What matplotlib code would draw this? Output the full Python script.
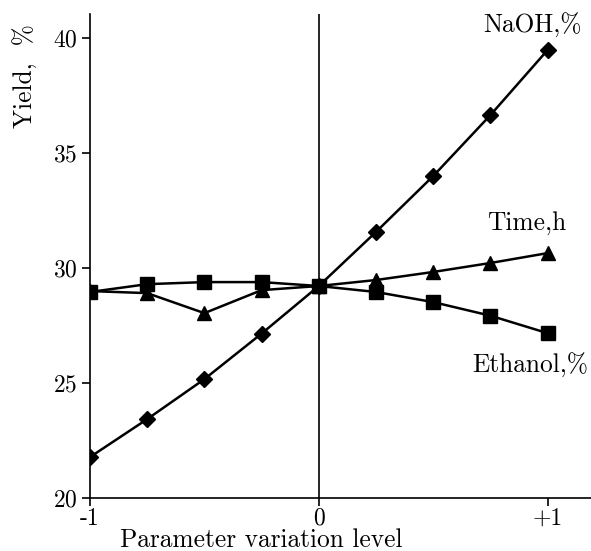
import matplotlib
matplotlib.use('Agg')
import matplotlib.pyplot as plt

plt.rcParams['font.family'] = 'cmr10'
plt.rcParams['mathtext.fontset'] = 'cm'
plt.rcParams['axes.formatter.use_mathtext'] = True

# data
levels = [-1, -0.75, -0.5, -0.25, 0, 0.25, 0.5, 0.75, 1]
naoh = [21.78, 23.43, 25.17, 27.15, 29.22, 31.57, 34.0, 36.65, 39.48]
ethanol = [28.96, 29.3, 29.39, 29.39, 29.22, 28.96, 28.52, 27.93, 27.17]
time_h = [29.0, 28.91, 28.04, 29.04, 29.22, 29.48, 29.83, 30.22, 30.65]

xticks = [-1, 0, 1]
xticklabels = ['-1', '0', '+1']
yticks = [20, 25, 30, 35, 40]

W, H = 591, 551
fs_tick = 17
fs_text = 18.3

fig = plt.figure(figsize=(W / 100, H / 100), dpi=100)
ax = fig.add_axes([90 / W, 53 / H, 501 / W, 484 / H])

lw = 1.8
ax.plot(levels, time_h, color='black', lw=lw, marker='^', ms=10, zorder=3)
ax.plot(levels, ethanol, color='black', lw=lw, marker='s', ms=9.5, zorder=4)
ax.plot(levels, naoh, color='black', lw=lw, marker='D', ms=8, zorder=5)

ax.axvline(0, color='black', lw=1.2, zorder=2)

ax.set_xlim(-1, 1.19)
ax.set_ylim(20, 41.05)

ax.spines['top'].set_visible(False)
ax.spines['right'].set_visible(False)
ax.spines['left'].set_linewidth(1.2)
ax.spines['bottom'].set_linewidth(1.2)

ax.set_xticks(xticks)
ax.set_xticklabels(xticklabels)
ax.set_yticks(yticks)
ax.tick_params(axis='both', length=6, width=1.2, labelsize=fs_tick,
               direction='out')
ax.tick_params(axis='x', pad=1)
ax.tick_params(axis='y', pad=3)


def put(xpx, ypx, s, **kw):
    kw.setdefault('ha', 'center')
    kw.setdefault('va', 'center')
    fig.text(xpx / W, 1 - ypx / H, s, fontsize=fs_text, **kw)


# axis titles (placed off-centre as in the original)
put(261, 547, 'Parameter variation level', va='baseline')
put(33, 76, 'Yield,  %', va='baseline', rotation=90, rotation_mode='anchor')

# curve labels
put(533, 25, 'NaOH,%')
put(527, 223, 'Time,h')
put(530, 365, 'Ethanol,%')

fig.savefig('out.png', dpi=100)
